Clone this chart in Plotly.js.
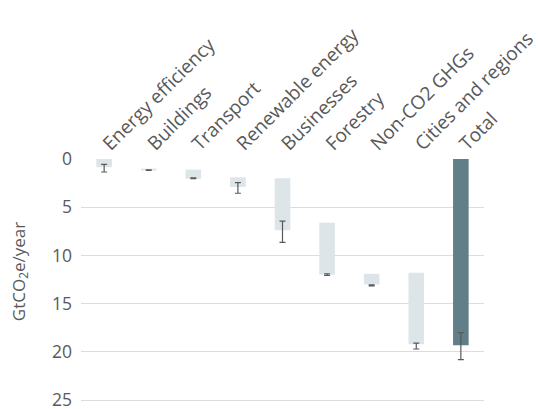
<!DOCTYPE html>
<html>
<head>
<meta charset="utf-8">
<script src="https://cdn.plot.ly/plotly-3.0.1.min.js"></script>
<style>html,body{margin:0;padding:0;background:#fff;}#chart{width:538px;height:409px;}</style>
</head>
<body>
<div id="chart"></div>
<script>
const categories = ["Energy efficiency","Buildings","Transport","Renewable energy","Businesses","Forestry","Non-CO2 GHGs","Cities and regions","Total"];
const barBase = [0, 1.0, 1.1, 1.9, 2.0, 6.6, 11.9, 11.8, 0];
const barTop  = [0.85, 1.2, 2.05, 2.9, 7.4, 12.0, 13.0, 19.2, 19.3];
const errCenter = [0.95, 1.15, 2.0, 3.0, 7.55, 12.0, 13.1, 19.4, 19.4];
const errSize = [0.4, 0.03, 0.05, 0.55, 1.1, 0.08, 0.05, 0.3, 1.4];
const barColors = ["#dde5e9","#dde5e9","#dde5e9","#dde5e9","#dde5e9","#dde5e9","#dde5e9","#dde5e9","#607f88"];
const yTicks = [0, 5, 10, 15, 20, 25];

const heights = barTop.map((t,i)=>t-barBase[i]);

const traces = [
  {
    type: 'bar', x: categories, y: heights, base: barBase,
    marker: {color: barColors}, hoverinfo: 'none', showlegend: false
  },
  {
    type: 'scatter', mode: 'markers', x: categories, y: errCenter,
    marker: {opacity: 0, size: 1},
    error_y: {type: 'data', array: errSize, visible: true, color: '#595959', thickness: 1.2, width: 3},
    hoverinfo: 'none', showlegend: false
  }
];

const layout = {
  width: 538, height: 409,
  margin: {l: 81, r: 54, t: 159, b: 6},
  paper_bgcolor: '#fff', plot_bgcolor: '#fff',
  bargap: 0.65,
  font: {family: 'Open Sans, sans-serif', color: '#595959'},
  xaxis: {
    side: 'top', tickangle: -45, type: 'category',
    tickfont: {size: 19, color: '#595959'},
    showline: false, showgrid: false, ticks: '', zeroline: false,
    ticklabeloverflow: 'allow'
  },
  yaxis: {
    range: [25.3, 0], tickvals: yTicks, ticktext: yTicks.map(String),
    tickfont: {size: 17.5, color: '#595959'},
    showgrid: true, gridcolor: '#dcdcdc', gridwidth: 1,
    zeroline: false, showline: false, ticks: '', ticklabelstandoff: 8,
    ticklabeloverflow: 'allow'
  },
  annotations: [{
    text: 'GtCO<sub>2</sub>e/year', xref: 'paper', yref: 'paper',
    x: -0.154, y: 0.54, xanchor: 'center', yanchor: 'middle',
    textangle: -90, showarrow: false,
    font: {size: 17, color: '#595959'}
  }]
};

Plotly.newPlot('chart', traces, layout, {displayModeBar: false, staticPlot: true});
</script>
</body>
</html>
